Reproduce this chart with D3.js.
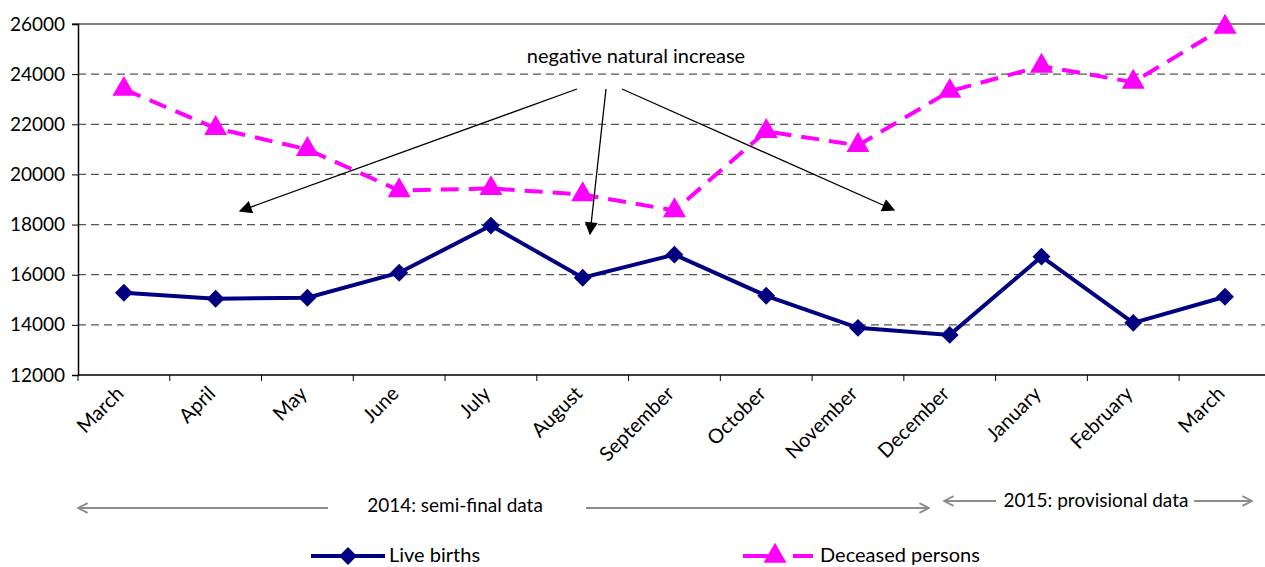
<!DOCTYPE html>
<html>
<head>
<meta charset="utf-8">
<script src="https://cdn.jsdelivr.net/npm/d3@7"></script>
<style>
  body { margin: 0; background: #fff; }
  text { font-family: Lato, "Open Sans", sans-serif; fill: #000; }
</style>
</head>
<body>
<svg id="chart" width="1265" height="567"></svg>
<script>
// months (2014 Mar .. 2015 Mar)
const months = ["March", "April", "May", "June", "July", "August", "September",
                "October", "November", "December", "January", "February", "March"];
const liveBirths = [15280, 15040, 15080, 16080, 17960, 15880, 16800,
                    15160, 13880, 13600, 16720, 14080, 15120];
const deceased   = [23400, 21840, 21000, 19360, 19440, 19200, 18560,
                    21720, 21160, 23320, 24320, 23680, 25880];
const yTicks = [12000, 14000, 16000, 18000, 20000, 22000, 24000, 26000];

const svg = d3.select("#chart");
const marginLeft = 78, marginTop = 24, plotBottom = 375, bandW = 91.76;
const idx = months.map((m, i) => i);

let x = d3.scaleBand().domain(idx).range([marginLeft, marginLeft + bandW * months.length]).padding(0);
let y = d3.scaleLinear().domain([12000, 26000]).range([plotBottom, marginTop]);
const cx = i => x(i) + x.bandwidth() / 2;

let defs = svg.append("defs");
defs.append("marker")
    .attr("id", "blackHead")
    .attr("viewBox", "0 0 10 10").attr("refX", 9).attr("refY", 5)
    .attr("markerWidth", 17).attr("markerHeight", 13)
    .attr("markerUnits", "userSpaceOnUse")
    .attr("orient", "auto")
    .append("path").attr("d", "M0,0 L10,5 L0,10 Z").attr("fill", "#000");
defs.append("marker")
    .attr("id", "grayHead")
    .attr("viewBox", "0 0 10 10").attr("refX", 9).attr("refY", 5)
    .attr("markerWidth", 12).attr("markerHeight", 12)
    .attr("markerUnits", "userSpaceOnUse")
    .attr("orient", "auto")
    .append("path").attr("d", "M1,1 L9,5 L1,9").attr("fill", "none")
    .attr("stroke", "#8c8c8c").attr("stroke-width", 1.6);

// grid lines
svg.append("g").selectAll("line")
    .data(yTicks.filter(t => t > 12000 && t < 26000))
    .enter().append("line")
    .attr("x1", marginLeft).attr("x2", 1265)
    .attr("y1", d => y(d)).attr("y2", d => y(d))
    .attr("stroke", "#555").attr("stroke-width", 1.2)
    .attr("stroke-dasharray", "8,5");

// top border
svg.append("line").attr("x1", marginLeft - 6).attr("x2", 1265)
    .attr("y1", y(26000)).attr("y2", y(26000))
    .attr("stroke", "#000").attr("stroke-width", 1.2);

// y axis
let yAxis = svg.append("g").attr("transform", `translate(${marginLeft},0)`)
    .call(d3.axisLeft(y).tickValues(yTicks).tickSize(6).tickPadding(7).tickFormat(d3.format("d")));
yAxis.select(".domain").attr("stroke", "#000").attr("stroke-width", 1.5);
yAxis.selectAll(".tick line").attr("stroke", "#000");
yAxis.selectAll("text").style("font-size", "19px").style("font-family", "Lato");

// x axis: ticks between categories
svg.append("line").attr("x1", marginLeft).attr("x2", 1265)
    .attr("y1", plotBottom).attr("y2", plotBottom)
    .attr("stroke", "#000").attr("stroke-width", 1.5);
svg.append("g").selectAll("line")
    .data(idx)
    .enter().append("line")
    .attr("x1", d => x(d)).attr("x2", d => x(d))
    .attr("y1", plotBottom).attr("y2", plotBottom + 6)
    .attr("stroke", "#000");
svg.append("g").selectAll("text")
    .data(idx)
    .enter().append("text")
    .attr("transform", d => `translate(${cx(d) - 9},${plotBottom + 10}) rotate(-45)`)
    .attr("text-anchor", "end")
    .attr("dy", "0.7em")
    .style("font-size", "20px")
    .text(d => months[d]);

// series lines
let line = d3.line().x((d, i) => cx(i)).y(d => y(d));

svg.append("path").datum(deceased)
    .attr("d", line).attr("fill", "none")
    .attr("stroke", "#ff00ff").attr("stroke-width", 4)
    .attr("stroke-dasharray", "18,10");
svg.append("path").datum(liveBirths)
    .attr("d", line).attr("fill", "none")
    .attr("stroke", "#000080").attr("stroke-width", 4);

// diamond = square turned 45 degrees
let diamond = d3.symbol().type(d3.symbolSquare).size(160);
let triangle = d3.symbol().type(d3.symbolTriangle).size(230);

svg.append("g").selectAll("path")
    .data(liveBirths)
    .enter().append("path")
    .attr("d", diamond)
    .attr("transform", (d, i) => `translate(${cx(i)},${y(d)}) rotate(45)`)
    .attr("fill", "#000080");
svg.append("g").selectAll("path")
    .data(deceased)
    .enter().append("path")
    .attr("d", triangle)
    .attr("transform", (d, i) => `translate(${cx(i)},${y(d)})`)
    .attr("fill", "#ff00ff");

// annotation
svg.append("text").attr("x", 636).attr("y", 63)
    .attr("text-anchor", "middle").style("font-size", "20px")
    .text("negative natural increase");
const arrows = [[577, 89, 240, 211], [606, 89, 590, 234], [622, 89, 894, 210]];
svg.append("g").selectAll("line")
    .data(arrows)
    .enter().append("line")
    .attr("x1", d => d[0]).attr("y1", d => d[1])
    .attr("x2", d => d[2]).attr("y2", d => d[3])
    .attr("stroke", "#000").attr("stroke-width", 1.3)
    .attr("marker-end", "url(#blackHead)");

// period annotations
const periods = [
  {label: "2014: semi-final data", tx: 455, ty: 512, segs: [[328, 508, 78, 508], [586, 508, 929, 508]]},
  {label: "2015: provisional data", tx: 1096, ty: 507, segs: [[996, 501, 944, 501], [1194, 501, 1252, 501]]}
];
periods.forEach(p => {
  svg.append("text").attr("x", p.tx).attr("y", p.ty)
     .attr("text-anchor", "middle").style("font-size", "19px").text(p.label);
  p.segs.forEach(s => {
    svg.append("line")
       .attr("x1", s[0]).attr("y1", s[1]).attr("x2", s[2]).attr("y2", s[3])
       .attr("stroke", "#8c8c8c").attr("stroke-width", 2)
       .attr("marker-end", "url(#grayHead)");
  });
});

// legend
let lg = svg.append("g");
lg.append("line").attr("x1", 311).attr("x2", 385).attr("y1", 556).attr("y2", 556)
  .attr("stroke", "#000080").attr("stroke-width", 4);
lg.append("path").attr("d", diamond).attr("transform", "translate(348,556) rotate(45)").attr("fill", "#000080");
lg.append("text").attr("x", 389).attr("y", 562).style("font-size", "20px").text("Live births");

lg.append("line").attr("x1", 743).attr("x2", 813).attr("y1", 556).attr("y2", 556)
  .attr("stroke", "#ff00ff").attr("stroke-width", 4).attr("stroke-dasharray", "35,15");
lg.append("path").attr("d", triangle).attr("transform", "translate(775,556)").attr("fill", "#ff00ff");
lg.append("text").attr("x", 820).attr("y", 562).style("font-size", "20px").text("Deceased persons");
</script>
</body>
</html>
